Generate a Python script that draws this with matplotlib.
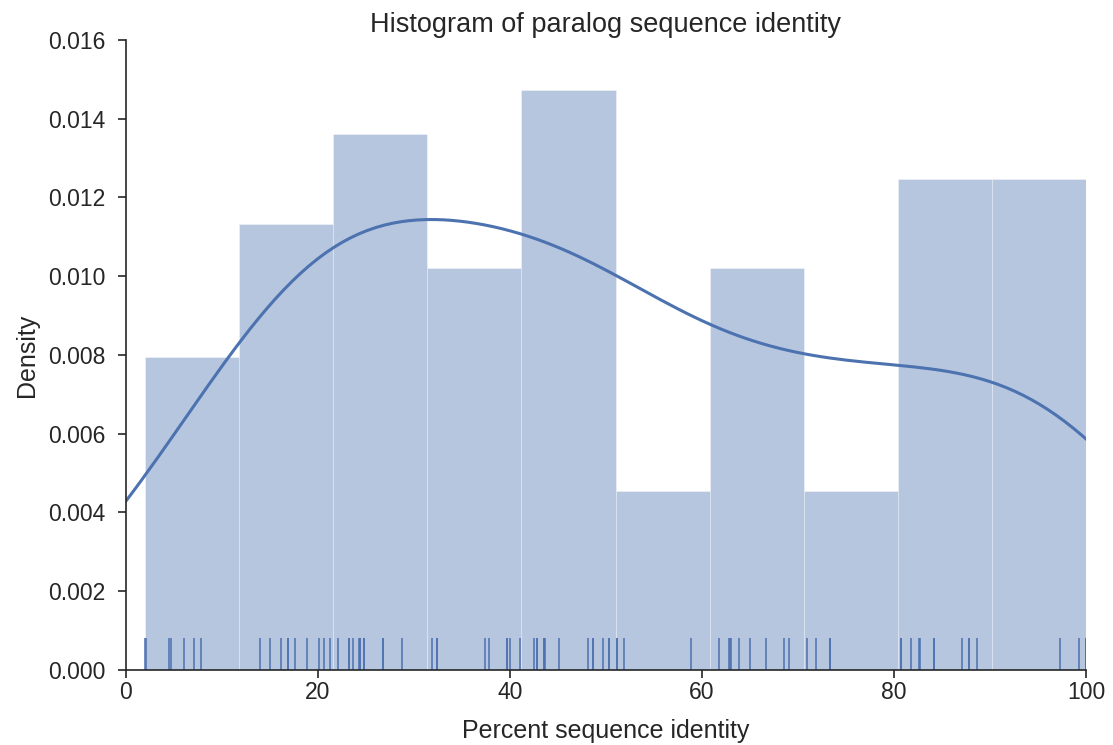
"""
Histogram of paralog sequence identity, with KDE and rug.
"""

import numpy as np
import matplotlib
matplotlib.use("Agg")
import matplotlib.pyplot as plt
import seaborn as sns

# percent identity of each paralog pair
bin1 = [2.0, 2.1, 4.5, 4.7, 6.0, 7.1, 7.8]
bin2 = [14.0, 15.0, 16.1, 16.9, 16.9, 17.6, 18.9, 20.1, 20.6, 21.2]
bin3 = [22.1, 23.2, 23.2, 23.6, 24.3, 24.4, 24.4, 24.8, 24.8, 26.8, 26.8, 28.7]
bin4 = [31.9, 32.4, 32.4, 37.4, 37.8, 39.7, 39.7, 40.0, 41.0]
bin5 = [42.5, 42.8, 42.8, 43.5, 43.5, 43.7, 45.1, 48.1, 48.6, 48.6, 49.7, 50.3, 50.3]
bin6 = [51.1, 51.1, 51.9, 58.9]
bin7 = [61.8, 62.8, 62.9, 63.0, 63.9, 65.0, 66.7, 68.5, 69.1]
bin8 = [70.9, 71.9, 73.3, 73.3]
bin9 = [80.7, 80.7, 81.8, 82.6, 82.7, 84.2, 84.2, 87.1, 87.8, 87.8, 88.7]
bin10 = [97.3, 99.3, 100, 100, 100, 100, 100, 100, 100, 100, 100]

identity = np.array(bin1 + bin2 + bin3 + bin4 + bin5 + bin6 + bin7 + bin8 + bin9 + bin10)

yticks = [0.000, 0.002, 0.004, 0.006, 0.008, 0.010, 0.012, 0.014, 0.016]
xticks = [0, 20, 40, 60, 80, 100]

sns.set_style("ticks")
plt.rcParams["font.family"] = ["Liberation Sans", "DejaVu Sans"]
plt.rcParams["text.color"] = "#262626"
plt.rcParams["axes.labelcolor"] = "#262626"
plt.rcParams["xtick.color"] = "#262626"
plt.rcParams["ytick.color"] = "#262626"

blue = "#4C72B0"

fig = plt.figure(figsize=(11.13, 7.45), dpi=100)
ax = fig.add_axes([0.1132, 0.1007, 0.8625, 0.8456])

ax.hist(identity, bins=10, density=True, color=blue, alpha=0.4,
        edgecolor="white", linewidth=0.6)
sns.kdeplot(identity, ax=ax, color=blue, linewidth=2.2, bw_adjust=1.05)
sns.rugplot(identity, ax=ax, color=blue, height=0.05, linewidth=1.1)

ax.set_xlim(0, 100)
ax.set_ylim(0, 0.016)
ax.set_yticks(yticks)
ax.set_yticklabels([f"{v:.3f}" for v in yticks])
ax.set_xticks(xticks)

ax.tick_params(axis="y", labelsize=16.5, length=6, width=1.2, pad=9)
ax.tick_params(axis="x", labelsize=16.5, length=6, width=1.2, pad=2)
for s in ["left", "bottom"]:
    ax.spines[s].set_linewidth(1.2)
    ax.spines[s].set_color("#262626")
sns.despine(ax=ax)

ax.set_xlabel("Percent sequence identity", fontsize=18, labelpad=11)
ax.set_ylabel("Density", fontsize=18, labelpad=6)
ax.set_title("Histogram of paralog sequence identity", fontsize=19.5, pad=6)

fig.savefig("out.png", dpi=100)
